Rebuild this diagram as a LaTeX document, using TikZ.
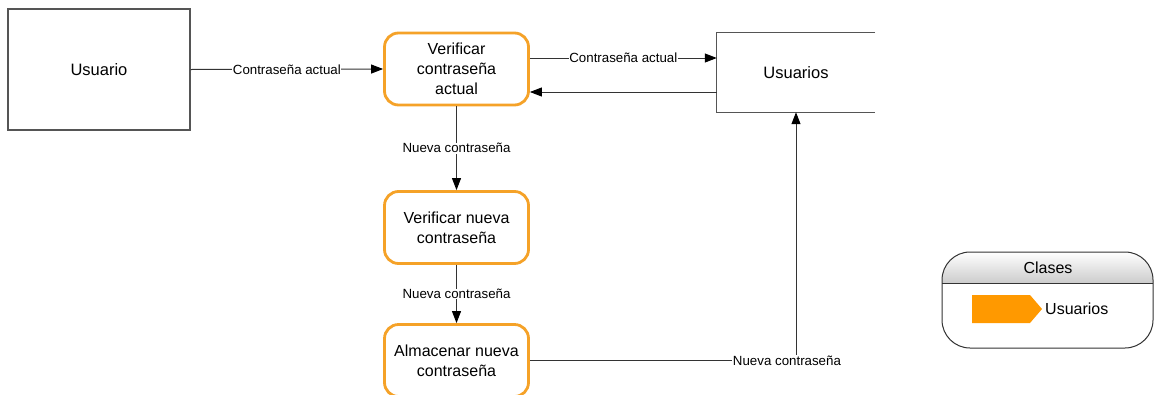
\documentclass[tikz,border=0pt]{standalone}
\usepackage{fontspec}
\setmainfont{Liberation Sans}
\usetikzlibrary{arrows.meta}
\definecolor{procorange}{RGB}{245,162,40}
\definecolor{legorange}{RGB}{255,153,0}
\definecolor{boxgrey}{RGB}{85,85,85}

\tikzset{
  process/.style={draw=procorange, line width=2.8pt, rounded corners=14pt, fill=white,
    minimum width=144pt, minimum height=72pt, align=center, inner sep=0pt,
    font=\fontsize{16}{20}\selectfont},
  entity/.style={draw=boxgrey, line width=1.3pt, minimum width=182pt, minimum height=121pt,
    font=\fontsize{16.5}{20}\selectfont},
  storetext/.style={minimum width=158pt, minimum height=79pt, inner sep=0pt,
    font=\fontsize{16.5}{20}\selectfont},
  storeline/.style={draw=boxgrey, line width=1.3pt},
  flow/.style={draw=black!80, line width=1pt,
    -{Triangle[length=12pt,width=9pt,color=black]}},
  flowlabel/.style={fill=white, inner sep=0.5pt, font=\fontsize{13.3}{15}\selectfont},
  legendtext/.style={font=\fontsize{16}{20}\selectfont, inner sep=1pt}
}

\begin{document}
\begin{tikzpicture}[x=1pt, y=-1pt]
  \clip (0,0) rectangle (1158,394);
  \fill[white] (0,0) rectangle (1158,394);

  % external entity
  \node[entity] (usuario) at (99,69.5) {Usuario};

  % processes
  \node[process] (vca) at (456.5,69) {Verificar\\contraseña\\actual};
  \node[process] (vnc) at (456.5,227.5) {Verificar nueva\\contraseña};
  \node[process] (anc) at (456.5,360.5) {Almacenar nueva\\contraseña};

  % data store (open on the right)
  \node[storetext] (store) at (796,72.5) {Usuarios};
  \draw[storeline] (store.north east) -- (store.north west) -- (store.south west) -- (store.south east);

  % flows
  \coordinate (upper) at (0,58);
  \coordinate (lower) at (0,92);
  \draw[flow] (usuario.east) -- node[flowlabel] {Contraseña actual} (vca.west);
  \draw[flow] (vca.east |- upper) -- node[flowlabel] {Contraseña actual} (store.west |- upper);
  \draw[flow] (store.west |- lower) -- (vca.east |- lower);
  \draw[flow] (vca.south) -- node[flowlabel] {Nueva contraseña} (vnc.north);
  \draw[flow] (vnc.south) -- node[flowlabel] {Nueva contraseña} (anc.north);
  \draw[flow] (anc.east) -| node[flowlabel, pos=0.483] {Nueva contraseña} (store.south);

  % legend
  \begin{scope}
    \clip[rounded corners=28pt] (942,252) rectangle (1153,348);
    \shade[top color=white, bottom color=black!20] (942,252) rectangle (1153,283);
  \end{scope}
  \draw[black!80, line width=1pt, rounded corners=28pt] (942,252) rectangle (1153,348);
  \draw[black!80, line width=0.8pt] (942,283) -- (1153,283);
  \node[legendtext] (legtitle) at (1048,268) {Clases};
  \fill[legorange] (972,295) -- (1030,295) -- (1042,309) -- (1030,323) -- (972,323) -- cycle;
  \node[legendtext, anchor=west] (legitem) at (1044,309) {Usuarios};
\end{tikzpicture}
\end{document}
